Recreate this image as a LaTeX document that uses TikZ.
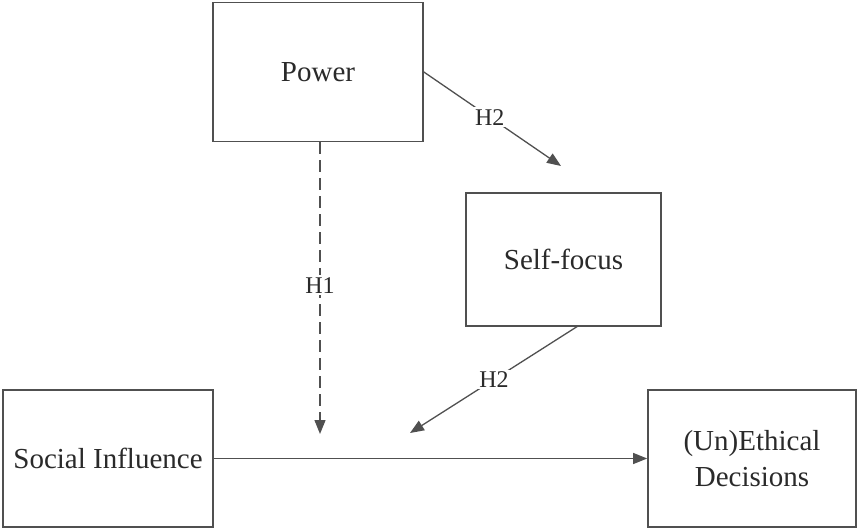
\documentclass[tikz,border=0pt]{standalone}
\usepackage{fontspec}
\setmainfont{Liberation Serif}
\usetikzlibrary{arrows.meta}
\definecolor{ink}{HTML}{2A2A2A}
\definecolor{lineg}{HTML}{505050}
\begin{document}
\begin{tikzpicture}[x=1pt,y=-1pt,
  box/.style={draw=lineg,line width=1.7pt,fill=white,inner sep=0pt,text=ink,
    font=\fontsize{29}{36}\selectfont,align=center},
  arr/.style={draw=lineg,line width=1.3pt,-{Triangle[length=14pt,width=11pt]}},
  lab/.style={fill=white,inner sep=2pt,text=ink,font=\fontsize{24}{28}\selectfont}]
\useasboundingbox (0,0) rectangle (858,529);
\node[box,minimum width=210pt,minimum height=139pt] (pow) at (318,72) {Power};
\node[box,minimum width=195pt,minimum height=133pt] (self) at (563.5,259.5) {Self-focus};
\node[box,minimum width=210pt,minimum height=137pt] (soc) at (108,458.5) {Social Influence};
\node[box,minimum width=208pt,minimum height=137pt] (eth) at (752,458.5) {(Un)Ethical\\Decisions};
\coordinate (t1) at (320,434);
\coordinate (t2) at (410,433);
\coordinate (s2) at (578,326);
\draw[arr] (soc.east) -- (eth.west);
\draw[arr,dash pattern=on 12pt off 6pt] (pow.south -| t1) -- node[lab,pos=0.49]{H1} (t1);
\draw[arr] (pow.east) -- node[lab,pos=0.48]{H2} (561,166);
\draw[arr] (s2) -- node[lab,pos=0.5]{H2} (t2);
\end{tikzpicture}
\end{document}
